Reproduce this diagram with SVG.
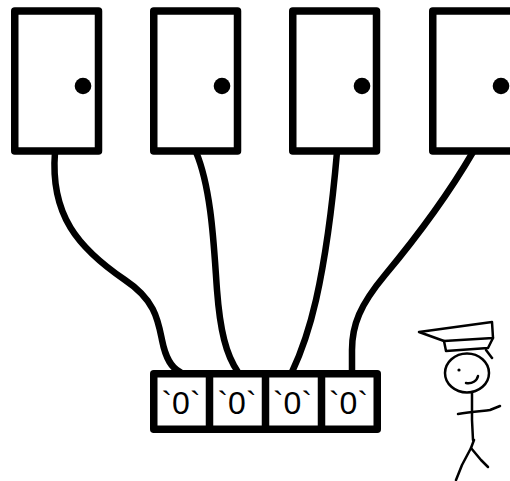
<svg xmlns="http://www.w3.org/2000/svg" width="510" height="481" viewBox="0 0 510 481">
  <style>
    .door { fill: #fff; stroke: #000; stroke-width: 7.5; stroke-linejoin: round; }
    .knob { fill: #000; }
    .wire { fill: none; stroke: #000; stroke-width: 6.5; stroke-linecap: round; }
    .cell { fill: #fff; stroke: #000; stroke-width: 7.5; stroke-linejoin: round; }
    .val { font-family: "Liberation Sans", Arial, sans-serif; font-size: 32px; fill: #000; text-anchor: middle; }
    .sketch { fill: none; stroke: #000; stroke-width: 2.5; stroke-linecap: round; stroke-linejoin: round; }
  </style>
  <rect width="510" height="481" fill="#fff"/>

  <!-- wires from each door down to its register cell -->
  <g id="connectors">
    <path class="wire" d="M55,152 C 50,215 78,248 125,280 C 155,300 158,320 162,340 C 166,360 172,368 180,372"/>
    <path class="wire" d="M196,152 C 212,190 214,250 217,290 C 220,330 226,355 238,372"/>
    <path class="wire" d="M337,152 C 332,210 325,260 316,300 C 308,335 300,355 292,372"/>
    <path class="wire" d="M473,152 C 445,200 410,245 385,275 C 360,305 352,325 352,350 L352,372"/>
  </g>

  <g id="door-1">
    <rect class="door" x="14.75" y="11" width="83.75" height="140"/>
    <circle class="knob" cx="83" cy="86" r="8.3"/>
  </g>
  <g id="door-2">
    <rect class="door" x="153.75" y="11" width="83.75" height="140"/>
    <circle class="knob" cx="222" cy="86" r="8.3"/>
  </g>
  <g id="door-3">
    <rect class="door" x="292.75" y="11" width="83.75" height="140"/>
    <circle class="knob" cx="362" cy="86" r="8.3"/>
  </g>
  <g id="door-4">
    <rect class="door" x="432.75" y="11" width="83.75" height="140"/>
    <circle class="knob" cx="501" cy="86" r="8.3"/>
  </g>

  <!-- four-cell register -->
  <g id="register">
    <rect class="cell" x="153.75" y="373.75" width="223.5" height="55.5"/>
    <line class="cell" x1="209.5" y1="373.75" x2="209.5" y2="429.25"/>
    <line class="cell" x1="265.5" y1="373.75" x2="265.5" y2="429.25"/>
    <line class="cell" x1="321.5" y1="373.75" x2="321.5" y2="429.25"/>
    <text class="val" x="181" y="414">`0`</text>
    <text class="val" x="237" y="414">`0`</text>
    <text class="val" x="292.5" y="414">`0`</text>
    <text class="val" x="348.5" y="414">`0`</text>
  </g>

  <!-- stick figure in a cap -->
  <g id="figure">
    <path class="sketch" d="M419,332 L492,322 L493,338 L444,341 Z"/>
    <path class="sketch" d="M444,341 L446,351 L488,348 L493,338"/>
    <path class="sketch" d="M486,350 L492,358"/>
    <ellipse class="sketch" cx="467" cy="373" rx="22" ry="19.5"/>
    <circle cx="459" cy="370" r="1.6" fill="#000"/>
    <path class="sketch" d="M466,383 C 472,384 477,381 478,376"/>
    <path class="sketch" d="M472,392 L472,420 L473,440"/>
    <path class="sketch" d="M458,414 C 470,412 482,411 490,410 L500,406"/>
    <path class="sketch" d="M474,440 L471,448 L462,465 L456,480"/>
    <path class="sketch" d="M471,448 L481,460 L488,467"/>
  </g>
</svg>
